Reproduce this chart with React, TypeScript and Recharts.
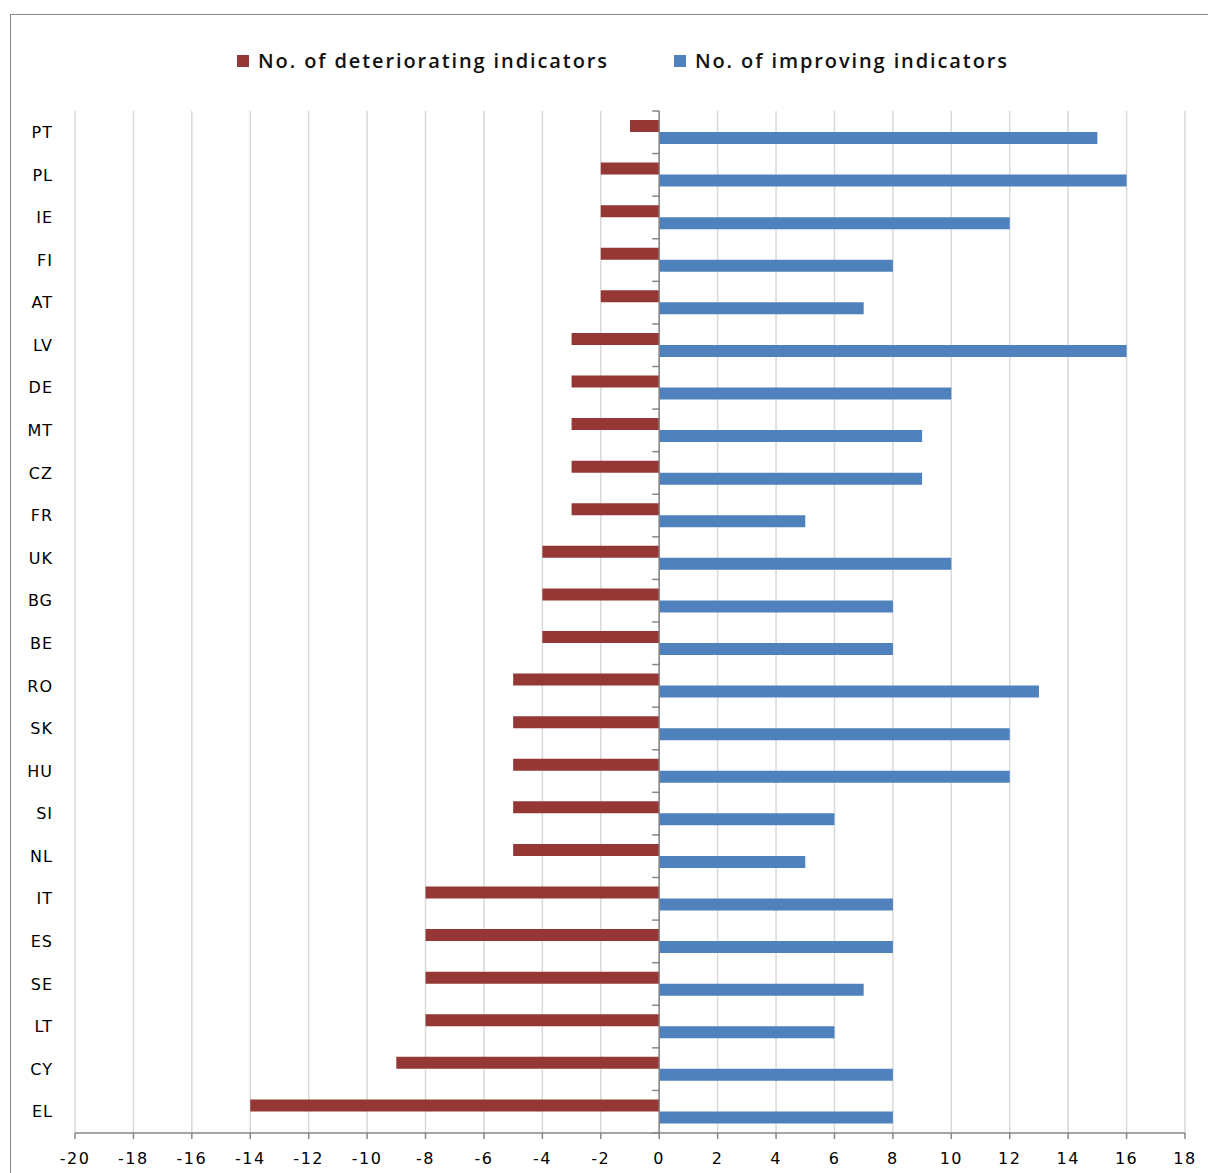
import React from "react";
import {
  BarChart,
  Bar,
  XAxis,
  YAxis,
  CartesianGrid,
  Legend,
  ReferenceLine,
} from "recharts";

const countries = [
  "PT", "PL", "IE", "FI", "AT", "LV", "DE", "MT", "CZ", "FR", "UK", "BG",
  "BE", "RO", "SK", "HU", "SI", "NL", "IT", "ES", "SE", "LT", "CY", "EL",
];
const deteriorating = [
  -1, -2, -2, -2, -2, -3, -3, -3, -3, -3, -4, -4,
  -4, -5, -5, -5, -5, -5, -8, -8, -8, -8, -9, -14,
];
const improving = [
  15, 16, 12, 8, 7, 16, 10, 9, 9, 5, 10, 8,
  8, 13, 12, 12, 6, 5, 8, 8, 7, 6, 8, 8,
];
const xTicks = [-20, -18, -16, -14, -12, -10, -8, -6, -4, -2, 0, 2, 4, 6, 8, 10, 12, 14, 16, 18];

const series = [
  { key: "det", name: "No. of deteriorating indicators", color: "#953735" },
  { key: "imp", name: "No. of improving indicators", color: "#4f81bd" },
];

const data = countries.map((c, i) => ({
  c,
  det: deteriorating[i],
  imp: improving[i],
}));

const axisGrey = "#868686";
const labelFont = "'DejaVu Sans', Verdana, sans-serif";

function LegendBox() {
  return (
    <div
      style={{
        display: "flex",
        justifyContent: "flex-start",
        paddingLeft: 237,
        gap: 65,
        fontFamily: "'Open Sans', sans-serif",
        fontSize: 20,
        fontWeight: 600,
        color: "#111",
        letterSpacing: 1.9,
      }}
    >
      {series.map((s) => (
        <div key={s.key} style={{ display: "flex", alignItems: "center" }}>
          <span
            style={{
              width: 12,
              height: 12,
              background: s.color,
              display: "inline-block",
              marginRight: 9,
            }}
          />
          <span>{s.name}</span>
        </div>
      ))}
    </div>
  );
}

function ZeroAxis(props: any) {
  const { x1, y1, y2 } = props;
  const top = Math.min(y1, y2);
  const bottom = Math.max(y1, y2);
  const n = countries.length;
  const marks = [];
  for (let i = 0; i <= n; i++) {
    const y = top + ((bottom - top) * i) / n;
    marks.push(<line key={i} x1={x1 - 7} x2={x1} y1={y} y2={y} stroke={axisGrey} strokeWidth={1.5} />);
  }
  return (
    <g>
      <line x1={x1} x2={x1} y1={top} y2={bottom} stroke={axisGrey} strokeWidth={1.5} />
      {marks}
    </g>
  );
}

export default function App() {
  return (
    <div style={{ width: 1208, height: 1173, overflow: "hidden", position: "relative", background: "#fff" }}>
      <style>{"body{margin:0}"}</style>
      <div
        style={{
          position: "absolute",
          left: 10,
          top: 14,
          width: 1230,
          height: 1200,
          border: "1.5px solid #878787",
        }}
      />
      <div style={{ position: "absolute", left: 0, top: 0 }}>
        <BarChart
          width={1208}
          height={1173}
          data={data}
          layout="vertical"
          barSize={12}
          barGap={0}
          margin={{ top: 84, right: 23, left: 5, bottom: 10 }}
        >
          <CartesianGrid horizontal={false} stroke="#d9d9d9" strokeWidth={1.5} />
          <XAxis
            type="number"
            domain={[-20, 18]}
            ticks={xTicks}
            interval={0}
            height={30}
            axisLine={{ stroke: axisGrey, strokeWidth: 1.5 }}
            tickLine={{ stroke: axisGrey, strokeWidth: 1.5 }}
            tickSize={6}
            tickMargin={14}
            tick={{ fontSize: 16, fill: "#000", fontFamily: labelFont, letterSpacing: 1.5 }}
          />
          <YAxis
            type="category"
            dataKey="c"
            width={70}
            axisLine={false}
            tickLine={false}
            tickMargin={16}
            interval={0}
            tick={{ fontSize: 16, fill: "#000", fontFamily: labelFont, letterSpacing: 1 }}
          />
          <Legend verticalAlign="top" align="left" content={() => <LegendBox />} wrapperStyle={{ top: 47, left: 0, width: 1208 }} />
          {series.map((s) => (
            <Bar key={s.key} dataKey={s.key} name={s.name} fill={s.color} isAnimationActive={false} />
          ))}
          <ReferenceLine x={0} shape={(p: any) => <ZeroAxis {...p} />} />
        </BarChart>
      </div>
    </div>
  );
}
